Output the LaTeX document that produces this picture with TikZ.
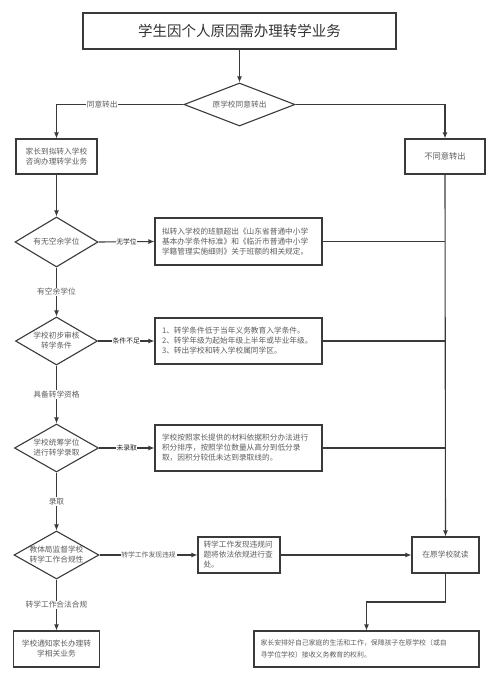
\documentclass[tikz,border=0pt]{standalone}
\usepackage{fontspec}
\setmainfont{Noto Sans CJK SC}
\usetikzlibrary{arrows.meta,shapes.geometric}
\definecolor{lncol}{HTML}{3A3A3A}
\definecolor{txcol}{HTML}{5E5E5E}
\begin{document}
\begin{tikzpicture}[x=1pt,y=-1pt,
  box/.style={draw=lncol, line width=1.1pt, fill=white, inner sep=0pt, text=txcol, align=center, font=\fontsize{7.7}{10}\selectfont},
  lbox/.style={box, align=left, inner xsep=7pt, text width=153pt},
  dia/.style={draw=lncol, line width=1.1pt, diamond, inner sep=0pt, fill=white},
  dtext/.style={text=txcol, align=center, font=\fontsize{7.7}{10}\selectfont},
  arr/.style={draw=lncol, line width=1.1pt, -{Latex[length=6pt,width=5pt]}},
  conn/.style={draw=lncol, line width=1.1pt},
  lab/.style={fill=white, text=txcol, inner sep=0.8pt, font=\fontsize{7.7}{9}\selectfont},
  labk/.style={fill=white, text=black!85, inner sep=0.5pt, font=\fontsize{6.8}{8}\selectfont},
]
\useasboundingbox (0,0) rectangle (499,681);

% title
\node[box, minimum width=313pt, minimum height=36pt, text=black!80, font=\fontsize{14.5}{17}\selectfont] (title) at (239.5,31) {学生因个人原因需办理转学业务};

% decision 1
\node[dia, minimum width=111pt, minimum height=43pt] (d1) at (239.5,104.5) {};
\node[dtext] (d1t) at (d1) {原学校同意转出};

\node[box, minimum width=81pt, minimum height=35pt] (b1) at (56.5,156.5) {家长到拟转入学校\\咨询办理转学业务};
\node[box, minimum width=80pt, minimum height=35pt, font=\fontsize{8.3}{10}\selectfont] (b2) at (445,156.5) {不同意转出};

% decision 2
\node[dia, minimum width=83pt, minimum height=50pt] (d2) at (56.5,242) {};
\node[dtext] (d2t) at (d2) {有无空余学位};
\node[lbox, minimum width=167pt, minimum height=47pt] (bx3) at (238.5,241.5) {拟转入学校的班额超出《山东省普通中小学\\基本办学条件标准》和《临沂市普通中小学\\学籍管理实施细则》关于班额的相关规定。};

% decision 3
\node[dia, minimum width=82pt, minimum height=48pt] (d3) at (56.5,341) {};
\node[dtext] (d3t) at (d3) {学校初步审核\\转学条件};
\node[lbox, minimum width=167pt, minimum height=46pt] (bx4) at (238.5,341) {1、转学条件低于当年义务教育入学条件。\\2、转学年级为起始年级上半年或毕业年级。\\3、转出学校和转入学校属同学区。};

% decision 4
\node[dia, minimum width=84pt, minimum height=48pt] (d4) at (56.5,448) {};
\node[dtext] (d4t) at (d4) {学校统筹学位\\进行转学录取};
\node[lbox, minimum width=167pt, minimum height=46pt] (bx5) at (238.5,448) {学校按照家长提供的材料依据积分办法进行\\积分排序，按照学位数量从高分到低分录\\取，因积分较低未达到录取线的。};

% decision 5
\node[dia, minimum width=85pt, minimum height=48pt] (d5) at (56.5,555) {};
\node[dtext] (d5t) at (d5) {教体局监督学校\\转学工作合规性};
\node[box, align=left, inner xsep=5.5pt, text width=71pt, minimum height=36pt] (bx6) at (239,555) {转学工作发现违规问\\题将依法依规进行查\\处。};
\node[box, minimum width=67pt, minimum height=36pt] (b7) at (445.5,555) {在原学校就读};

\node[box, align=left, inner xsep=6.5pt, text width=212pt, minimum height=36pt, font=\fontsize{6.9}{11.5}\selectfont] (b8) at (366.5,649) {家长安排好自己家庭的生活和工作，保障孩子在原学校（或自\\寻学位学校）接收义务教育的权利。};
\node[box, minimum width=86pt, minimum height=36pt] (b9) at (56.5,649) {学校通知家长办理转\\学相关业务};

% connectors
\draw[arr] (title) -- (d1);
\draw[arr] (d1.west) -| node[lab, pos=0.32] {同意转出} (b1.north);
\draw[arr] (d1.east) -| (b2.north);
\draw[arr] (b1) -- (d2);
\draw[arr] (d2.east) -- node[labk] {无学位} (bx3.west);
\draw[conn] (bx3.east) -- (bx3.east -| b2.south);
\draw[arr] (d2.south) -- node[lab] {有空余学位} (d3.north);
\draw[arr] (d3.east) -- node[labk] {条件不足} (bx4.west);
\draw[conn] (bx4.east) -- (bx4.east -| b2.south);
\draw[arr] (d3.south) -- node[lab] {具备转学资格} (d4.north);
\draw[arr] (d4.east) -- node[labk] {未录取} (bx5.west);
\draw[conn] (bx5.east) -- (bx5.east -| b2.south);
\draw[arr] (d4.south) -- node[lab] {录取} (d5.north);
\draw[arr] (d5.east) -- node[lab, font=\fontsize{6.8}{8}\selectfont] {转学工作发现违规} (bx6.west);
\draw[arr] (bx6.east) -- (b7.west);
\draw[arr] (b2.south) -- (b7.north);
\coordinate (k1) at (445.5,602);
\draw[arr] (b7.south) -- (k1) -| (b8.north);
\draw[arr] (d5.south) -- node[lab] {转学工作合法合规} (b9.north);
\end{tikzpicture}
\end{document}
